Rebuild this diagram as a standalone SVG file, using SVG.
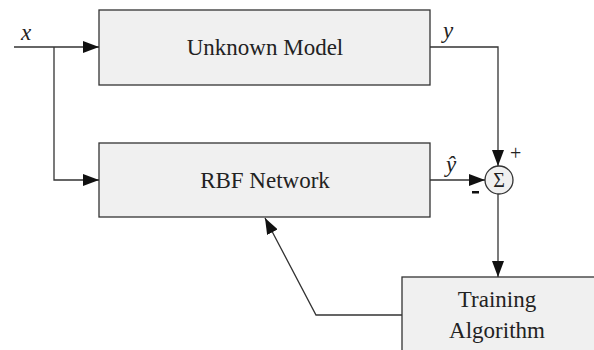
<svg xmlns="http://www.w3.org/2000/svg" width="594" height="350" viewBox="0 0 594 350">
<style>
.box{fill:#f0f0f0;stroke:#333333;stroke-width:1.3}
.ln{fill:none;stroke:#333333;stroke-width:1.3}
</style>
<defs>
<marker id="ah" markerWidth="16" markerHeight="12" refX="16" refY="6" orient="auto" markerUnits="userSpaceOnUse">
<path d="M0,0 L16,6 L0,12 Z" fill="#111111"/>
</marker>
</defs>
<rect width="594" height="350" fill="#ffffff"/>
<g font-family="Liberation Serif, DejaVu Serif, serif" font-size="23" fill="#222222" text-anchor="middle">
<g id="unknown"><rect class="box" x="99" y="10" width="331" height="75"/><text x="265" y="55">Unknown Model</text></g>
<g id="rbf"><rect class="box" x="99" y="143" width="331" height="74"/><text x="265" y="188">RBF Network</text></g>
<g id="train"><rect class="box" x="402" y="277" width="200" height="80"/><text x="497" y="307">Training</text><text x="497" y="338">Algorithm</text></g>
<g id="sum"><circle cx="499" cy="180" r="14" fill="#f0f0f0" stroke="#333333" stroke-width="1.3"/><text x="499" y="187" font-size="20">Σ</text></g>
</g>
<g id="connectors">
<path class="ln" d="M14,47 H99" marker-end="url(#ah)"/>
<path class="ln" d="M54,47 V180 H99" marker-end="url(#ah)"/>
<path class="ln" d="M430,47 H498 V166" marker-end="url(#ah)"/>
<path class="ln" d="M430,180 H485" marker-end="url(#ah)"/>
<path class="ln" d="M498,194 V277" marker-end="url(#ah)"/>
<path class="ln" d="M402,315 H316 L265,218" marker-end="url(#ah)"/>
</g>
<g id="labels" font-family="Liberation Serif, DejaVu Serif, serif" font-size="23" fill="#222222">
<text font-style="italic" x="21" y="40">x</text>
<text font-style="italic" x="443" y="38">y</text>
<text font-style="italic" x="446" y="172">ŷ</text>
<text x="510" y="160" font-size="20">+</text>
<rect x="472" y="191" width="7" height="2.5" fill="#111111"/>
</g>
</svg>
